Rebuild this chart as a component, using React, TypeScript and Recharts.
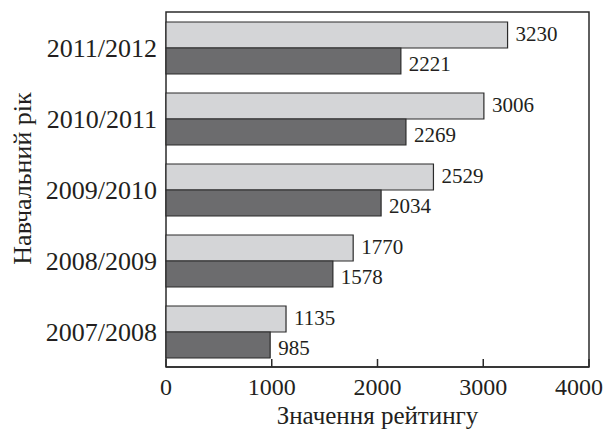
import * as React from "react"
import {
  BarChart,
  Bar,
  XAxis,
  YAxis,
  LabelList,
  ReferenceArea,
} from "recharts"

const years = ["2011/2012", "2010/2011", "2009/2010", "2008/2009", "2007/2008"]
const firstValues = [3230, 3006, 2529, 1770, 1135]
const secondValues = [2221, 2269, 2034, 1578, 985]
const xTicks = [0, 1000, 2000, 3000, 4000]

const data = years.map((year, i) => ({
  year,
  first: firstValues[i],
  second: secondValues[i],
}))

const font = "'Liberation Serif', serif"
const ink = "#231f20"

// keep the last tick label inside the picture, as the reference does
const XTick = (props: any) => {
  const { x, y, payload } = props
  const cx = Math.min(x, 579)
  return (
    <text
      x={cx}
      y={y}
      dy="0.71em"
      textAnchor="middle"
      fontFamily={font}
      fontSize={24}
      fill={ink}
    >
      {payload.value}
    </text>
  )
}

const YTitle = (props: any) => {
  const vb = props.viewBox || { x: 0, y: 0, width: 0, height: 0 }
  const x = vb.x + 22
  const y = vb.y + vb.height / 2 - 11
  return (
    <text
      x={x}
      y={y}
      transform={`rotate(-90, ${x}, ${y})`}
      textAnchor="middle"
      dominantBaseline="central"
      fontFamily={font}
      fontSize={26}
      fill={ink}
    >
      Навчальний рік
    </text>
  )
}

export default function App() {
  return (
    <div style={{ position: "absolute", left: 0, top: 0, background: "#fff" }}>
      <BarChart
        width={606}
        height={431}
        data={data}
        layout="vertical"
        margin={{ top: 12, right: 17, bottom: 0, left: 0 }}
        barSize={26}
        barGap={0}
      >
        <ReferenceArea x1={0} x2={4000} fill="none" stroke="#2b2b2b" strokeWidth={1.5} />
        <XAxis
          type="number"
          domain={[0, 4000]}
          ticks={xTicks}
          height={64}
          axisLine={{ stroke: "#2b2b2b", strokeWidth: 1.5 }}
          tickLine={{ stroke: "#2b2b2b", strokeWidth: 1.5 }}
          tickSize={-8}
          tickMargin={19}
          tick={<XTick />}
          label={{
            value: "Значення рейтингу",
            position: "insideBottom",
            offset: 7,
            fontFamily: font,
            fontSize: 25,
            fill: ink,
          }}
        />
        <YAxis
          type="category"
          dataKey="year"
          width={166}
          axisLine={false}
          tickLine={false}
          tickSize={0}
          tickMargin={9}
          tick={{ fontFamily: font, fontSize: 26, fill: ink }}
          label={{ content: YTitle }}
        />
        <Bar
          dataKey="first"
          fill="#d4d5d7"
          stroke="#2b2b2b"
          strokeWidth={1.2}
          isAnimationActive={false}
        >
          <LabelList
            dataKey="first"
            position="right"
            offset={8}
            dy={-1}
            fontFamily={font}
            fontSize={21}
            fill={ink}
          />
        </Bar>
        <Bar
          dataKey="second"
          fill="#6c6c6e"
          stroke="#2b2b2b"
          strokeWidth={1.2}
          isAnimationActive={false}
        >
          <LabelList
            dataKey="second"
            position="right"
            offset={8}
            dy={3}
            fontFamily={font}
            fontSize={21}
            fill={ink}
          />
        </Bar>
      </BarChart>
    </div>
  )
}
